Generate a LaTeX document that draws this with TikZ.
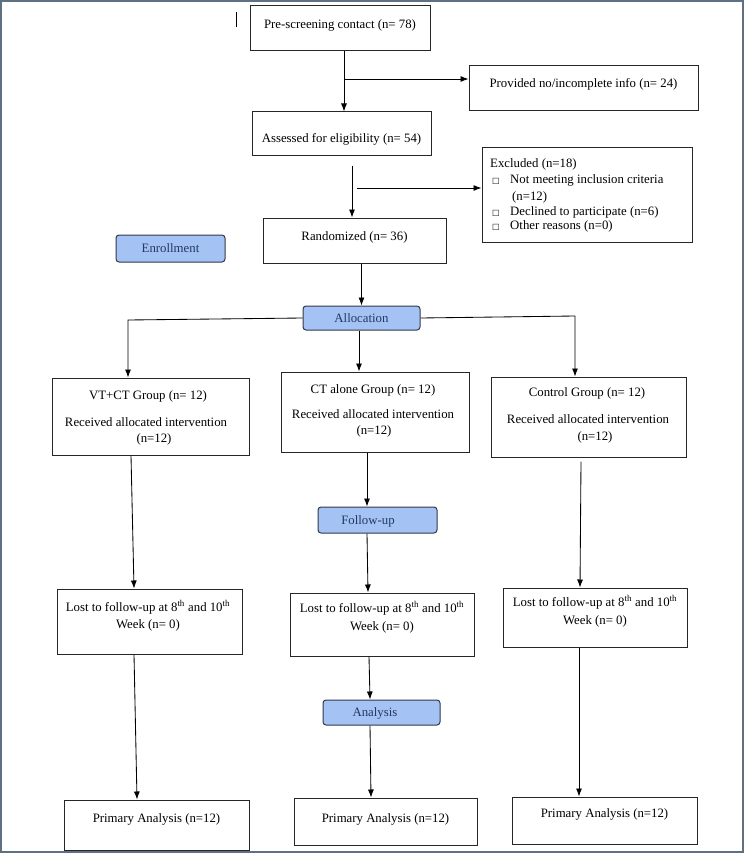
\documentclass[tikz,border=0pt]{standalone}
\usepackage{fontspec}
\setmainfont{Liberation Serif}
\newfontfamily\dejavu{DejaVu Sans}
\usetikzlibrary{arrows.meta,calc}
\definecolor{phasefill}{RGB}{164,194,244}
\definecolor{phasetext}{RGB}{36,56,96}
\definecolor{phaseline}{RGB}{50,58,72}
\definecolor{framecol}{RGB}{95,113,128}
\newcommand{\sqbox}{{\dejavu\fontsize{8}{8}\selectfont □}}
\begin{document}
\begin{tikzpicture}[x=1pt,y=-1pt,
  box/.style={draw=black!85, line width=1pt, fill=white, inner sep=0pt},
  txt/.style={font=\fontsize{12.8}{15}\selectfont, inner sep=0pt, anchor=base},
  ltxt/.style={font=\fontsize{12.8}{15}\selectfont, inner sep=0pt, anchor=base west},
  phase/.style={draw=phaseline, line width=1pt, rounded corners=3pt, fill=phasefill, inner sep=0pt},
  ptxt/.style={font=\fontsize{12.8}{15}\selectfont, text=phasetext, inner sep=0pt, anchor=base},
  arr/.style={-{Latex[length=8pt,width=6pt]}, line width=0.85pt},
  ln/.style={line width=0.85pt}]
\useasboundingbox (0,0) rectangle (745,856);
\draw[framecol, line width=1.8pt] (1,1) rectangle (743,852);
\draw[line width=0.8pt] (236,12) -- (236,27);

% boxes
\node[box, minimum width=180, minimum height=45] (pre) at (340,28.5) {};
\node[txt] (pret) at (340,28.5) {Pre-screening contact (n= 78)};
\node[box, minimum width=229, minimum height=45] (prov) at (583.5,88.5) {};
\node[txt] (provt) at (583.5,87.5) {Provided no/incomplete info (n= 24)};
\node[box, minimum width=179, minimum height=43] (ass) at (341.5,133.5) {};
\node[txt] (asst) at (341.5,142.5) {Assessed for eligibility (n= 54)};
\node[box, minimum width=210, minimum height=95] (exc) at (587,194.5) {};
\node[ltxt] (e1) at (490,167) {Excluded (n=18)};
\node[ltxt] (e2s) at (492,183) {\sqbox};
\node[ltxt] (e2) at (510,183) {Not meeting inclusion criteria};
\node[ltxt] (e3) at (512,200) {(n=12)};
\node[ltxt] (e4s) at (492,215) {\sqbox};
\node[ltxt] (e4) at (510,215) {Declined to participate (n=6)};
\node[ltxt] (e5s) at (492,229) {\sqbox};
\node[ltxt] (e5) at (510,229) {Other reasons (n=0)};
\node[box, minimum width=183, minimum height=45] (ran) at (354.5,240.5) {};
\node[txt] (rant) at (354.5,240) {Randomized (n= 36)};

\node[phase, minimum width=109, minimum height=27] (enr) at (170.5,248.5) {};
\node[ptxt] (enrt) at (170.5,252.5) {Enrollment};
\node[phase, minimum width=117, minimum height=24] (all) at (361.5,318) {};
\node[ptxt] (allt) at (361.5,322) {Allocation};

\node[box, minimum width=197, minimum height=77] (g1) at (150.5,416.5) {};
\node[txt] (g1a) at (148,399) {VT+CT Group (n= 12)};
\node[txt] (g1b) at (146,426) {Received allocated intervention};
\node[txt] (g1c) at (154,442) {(n=12)};
\node[box, minimum width=188, minimum height=80] (g2) at (375,412) {};
\node[txt] (g2a) at (373,393) {CT alone Group (n= 12)};
\node[txt] (g2b) at (373,418) {Received allocated intervention};
\node[txt] (g2c) at (374,434) {(n=12)};
\node[box, minimum width=195, minimum height=80] (g3) at (588.5,417) {};
\node[txt] (g3a) at (587,396) {Control Group (n= 12)};
\node[txt] (g3b) at (588,423) {Received allocated intervention};
\node[txt] (g3c) at (595,440) {(n=12)};

\node[phase, minimum width=119, minimum height=26] (fol) at (377.5,520) {};
\node[ptxt] (folt) at (368,524) {Follow-up};

\node[box, minimum width=185, minimum height=65] (l1) at (149.5,621.5) {};
\node[txt] (l1a) at (148,611) {Lost to follow-up at 8\textsuperscript{th} and 10\textsuperscript{th}};
\node[txt] (l1b) at (148,628) {Week (n= 0)};
\node[box, minimum width=184, minimum height=63] (l2) at (382,624.5) {};
\node[txt] (l2a) at (382,612) {Lost to follow-up at 8\textsuperscript{th} and 10\textsuperscript{th}};
\node[txt] (l2b) at (382,630) {Week (n= 0)};
\node[box, minimum width=184, minimum height=59] (l3) at (595,617.5) {};
\node[txt] (l3a) at (595,606) {Lost to follow-up at 8\textsuperscript{th} and 10\textsuperscript{th}};
\node[txt] (l3b) at (595,624) {Week (n= 0)};

\node[phase, minimum width=117, minimum height=25] (ana) at (381.5,712.5) {};
\node[ptxt] (anat) at (375,716.5) {Analysis};

\node[box, minimum width=185, minimum height=50] (p1) at (156.5,825) {};
\node[txt] (p1t) at (156.5,822) {Primary Analysis (n=12)};
\node[box, minimum width=183, minimum height=47] (p2) at (385.5,821.5) {};
\node[txt] (p2t) at (385.5,822) {Primary Analysis (n=12)};
\node[box, minimum width=185, minimum height=47] (p3) at (604.5,820.5) {};
\node[txt] (p3t) at (604.5,817) {Primary Analysis (n=12)};

% connectors
\coordinate (b1) at (344,79);
\coordinate (b2) at (357,188);
\draw[arr] (pre.south -| b1) -- (ass.north -| b1);
\draw[arr] (b1) -- (prov.west |- b1);
\draw[arr] ([yshift=-10pt]ass.south -| 352,0) -- (ran.north -| 352,0);
\draw[arr] (b2) -- (exc.west |- b2);
\draw[arr] (ran.south -| all.north) -- (all.north);
\draw[arr] (all.west) -- (128,320) -- (g1.north -| 128,0);
\draw[arr] (all.east) -- (575,316) -- (g3.north -| 575,0);
\draw[arr] (all.south -| 359,0) -- (g2.north -| 359,0);
\draw[arr] (g1.south -| 131,0) -- (l1.north -| 134,0);
\draw[arr] (g2.south -| 367,0) -- (fol.north -| 367,0);
\draw[arr] (fol.south -| 367,0) -- (l2.north -| 368,0);
\draw[arr] ([yshift=-4pt]g3.south -| 581,0) -- (l3.north -| 580,0);
\draw[arr] (l1.south -| 134,0) -- (p1.north -| 137,0);
\draw[arr] (l2.south -| 369,0) -- (ana.north -| 370,0);
\draw[arr] (ana.south -| 370,0) -- (p2.north -| 371,0);
\draw[arr] (l3.south -| 579,0) -- (p3.north -| 579,0);
\end{tikzpicture}
\end{document}
